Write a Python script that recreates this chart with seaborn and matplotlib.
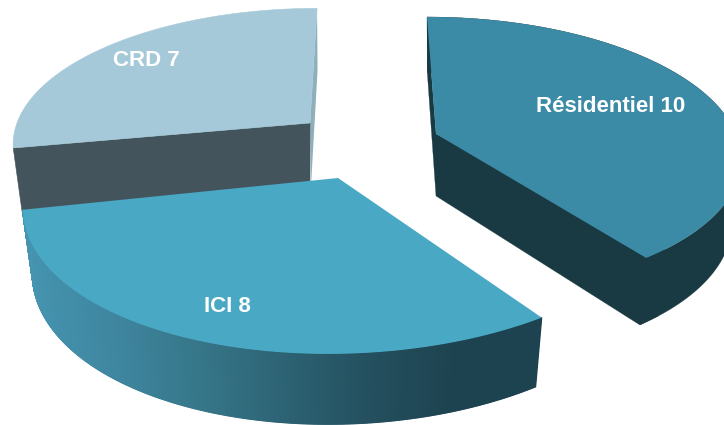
import numpy as np
import matplotlib
matplotlib.use("Agg")
import matplotlib.pyplot as plt
import seaborn as sns

categories = ["Résidentiel", "ICI", "CRD"]
values = [10, 8, 7]

sns.set_theme(style="white")
plt.rcParams['font.family'] = ['Liberation Sans', 'DejaVu Sans']

# layout of each exploded wedge in the 3D view (projection parameters)
geom = {
    "Résidentiel": dict(c=(436, 134), rx=300, ry=134.6, k=0.15, m=0, s=10.3, t=0, d=62, g=0.1),
    "ICI": dict(c=(338, 178), rx=322.7, ry=153, k=0.13, m=0.04, s=-15, t=-3.6, d=64, g=0.1),
    "CRD": dict(c=(310, 123), rx=293, ry=130, k=0.134, m=0, s=-8, t=0, d=63, g=0.1),
}
top_col = {"Résidentiel": "#3C8BA6", "ICI": "#49A8C4", "CRD": "#A6C9D9"}
dark_res = "#193A42"
face_crd = "#43545C"
sliver_crd = "#8FB0BB"
ici_wall = sns.blend_palette(["#4594B0", "#3F86A0", "#367789", "#2D6374", "#24505F", "#1E4350", "#1E4350"], 520)
label_pos = {"Résidentiel": (611, 106), "ICI": (227, 306), "CRD": (146, 60)}
SC = 0.03


def top(g, th):
    X, Y = np.sin(th), -np.cos(th)
    den = 1 - g["k"] * Y - g["m"] * X
    return (g["c"][0] + (g["rx"] * X + g["s"] * Y) / den,
            g["c"][1] + (g["ry"] * Y + g["t"] * X) / den)


def bottom(g, th):
    x, y = top(g, th)
    Y = -np.cos(th)
    return x - SC * (x - g["c"][0]), y + g["d"] * (1 + g["g"] * Y)


def apex_bottom(g):
    return g["c"][0], g["c"][1] + g["d"]


def poly(ax, xs, ys, col, lw=0.4):
    ax.fill(xs, ys, facecolor=col, edgecolor=col, lw=lw)


fig = plt.figure(figsize=(7.24, 4.25), dpi=100)
ax = fig.add_axes([0, 0, 1, 1])
ax.set_xlim(0, 724)
ax.set_ylim(425, 0)
ax.axis("off")

edges = np.deg2rad(np.concatenate([[0], np.cumsum(values)]) / np.sum(values) * 360)
spans = {n: (edges[i], edges[i + 1]) for i, n in enumerate(categories)}

# CRD
g = geom["CRD"]
a, b = spans["CRD"]
th = np.linspace(a, b, 160)
tx, ty = top(g, th)
ab = apex_bottom(g)
ex, ey = top(g, b)
poly(ax, [ex, ex + 0.5, ab[0] + 1, g["c"][0]], [ey, ey + 62, ab[1], g["c"][1]], sliver_crd, 0)
sx, sy = top(g, a)
bx, by = bottom(g, a)
poly(ax, [sx, g["c"][0], ab[0], bx], [sy, g["c"][1], ab[1], by], face_crd)
poly(ax, np.r_[g["c"][0], tx], np.r_[g["c"][1], ty], top_col["CRD"])

# Résidentiel: dark wall and overlapping cut faces, then the lit top
g = geom["Résidentiel"]
a, b = spans["Résidentiel"]
th = np.linspace(a, b, 160)
tx, ty = top(g, th)
bxs, bys = bottom(g, th)
ab = apex_bottom(g)
poly(ax, np.r_[tx, bxs[::-1]], np.r_[ty, bys[::-1]], dark_res, 0.2)
poly(ax, [tx[0], g["c"][0], tx[-6], bxs[-6], bxs[-1], ab[0], bxs[0]],
     [ty[0], g["c"][1], ty[-6], bys[-6], bys[-1], ab[1], bys[0]], dark_res, 0.2)
poly(ax, np.r_[g["c"][0], tx], np.r_[g["c"][1], ty], top_col["Résidentiel"], 0)

# ICI: graded outer wall, then the top
g = geom["ICI"]
a, b = spans["ICI"]
th = np.linspace(a, b, 601)
tx, ty = top(g, th)
bxs, bys = bottom(g, th)
for i in range(len(th) - 1):
    f = np.clip((tx[i] - 23) / (541 - 23), 0, 0.999)
    col = ici_wall[int(f * len(ici_wall))]
    poly(ax, [tx[i], tx[i + 1], bxs[i + 1], bxs[i]], [ty[i], ty[i + 1], bys[i + 1], bys[i]], col, 0.8)
poly(ax, np.r_[g["c"][0], tx], np.r_[g["c"][1], ty], top_col["ICI"], 0)

for n, v in zip(categories, values):
    x, y = label_pos[n]
    ax.text(x, y, f"{n} {v}", color="white", fontsize=16, fontweight="bold", ha="center", va="center")

fig.savefig("out.png", dpi=100, facecolor="white")
